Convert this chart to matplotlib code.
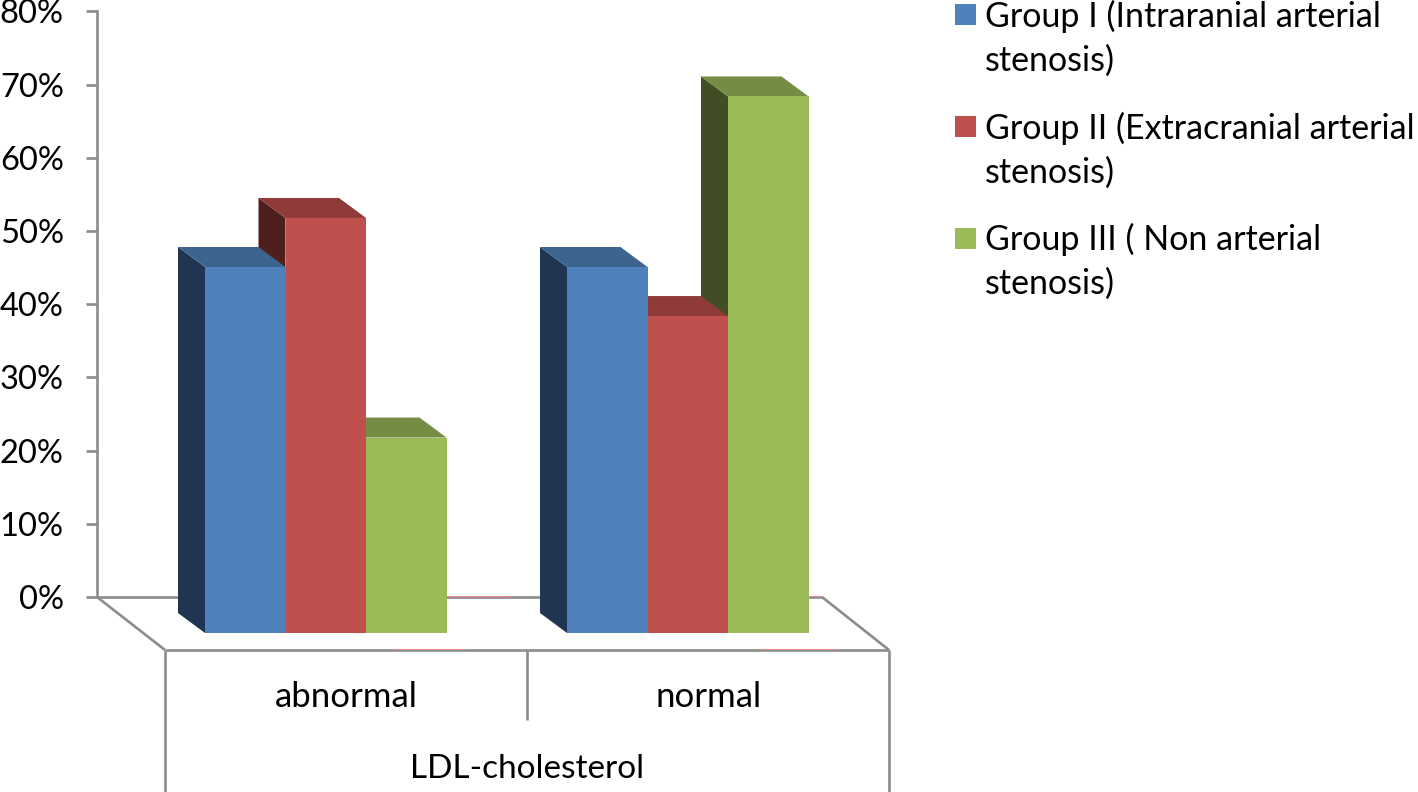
import matplotlib
matplotlib.use("Agg")
import matplotlib.pyplot as plt
from matplotlib.patches import Polygon, Rectangle

plt.rcParams['font.family'] = ['Lato', 'DejaVu Sans']

categories = ['abnormal', 'normal']
axis_title = 'LDL-cholesterol'
group_1 = [50.0, 50.0]
group_2 = [56.7, 43.3]
group_3 = [26.7, 73.3]
series = [group_1, group_2, group_3]
y_ticks = [0, 10, 20, 30, 40, 50, 60, 70, 80]
y_labels = ['0%', '10%', '20%', '30%', '40%', '50%', '60%', '70%', '80%']
legend_labels = ['Group I (Intraranial arterial\nstenosis)',
                 'Group II (Extracranial arterial\nstenosis)',
                 'Group III ( Non arterial\nstenosis)']

# front, top, side shade for each series
front_colors = ['#4f81bd', '#c0504d', '#9bbb59']
top_colors = ['#3d638f', '#8f3b39', '#748c43']
side_colors = ['#1f3552', '#4f1f1d', '#414d25']
axis_color = '#8c8c8c'

W, H = 1418, 792
px_per_pct = 7.32
zero_y = 597


def py(y):
    # picture row to percent units
    return (zero_y - y) / px_per_pct


fig = plt.figure(figsize=(W / 100, H / 100), dpi=100)
ax = fig.add_axes([0, 0, 1, 1])
ax.set_xlim(0, W)
ax.set_ylim(py(H), py(0))
ax.patch.set_visible(False)

for s in ['top', 'right', 'bottom']:
    ax.spines[s].set_visible(False)
ax.spines['left'].set_position(('data', 97))
ax.spines['left'].set_bounds(0, 80)
ax.spines['left'].set_color(axis_color)
ax.spines['left'].set_linewidth(1.9)
ax.set_xticks([])
ax.set_yticks(y_ticks)
ax.set_yticklabels(y_labels, fontsize=23.5, color='black')
ax.tick_params(axis='y', length=8, width=1.9, color=axis_color, pad=16)

# floor and category dividers
floor = [((97, 822), (597, 597)), ((97, 165), (597, 650)), ((822, 889), (597, 650)),
         ((165, 889), (650, 650)), ((165, 165), (650, 792)), ((527, 527), (650, 720)),
         ((889, 889), (650, 792))]
for xs, ys in floor:
    ax.plot(xs, [py(y) for y in ys], color=axis_color, lw=1.9, zorder=1,
            solid_capstyle='butt', clip_on=False)

# faint red traces along the floor edges
for xs, y in [((446, 510), 596), ((808, 822), 596), ((395, 465), 649), ((760, 835), 649)]:
    ax.plot(xs, [py(y)] * 2, color='#e58f8f', lw=0.8, zorder=1.5)

# oblique bars, drawn back to front so the shading overlaps like the original
group_left = [205, 567]
bar_w = 80.5
depth_x, depth_y = 27, 20 / px_per_pct
base = py(633)

for g in range(len(categories)):
    for i in reversed(range(len(series))):
        v = base + series[i][g]
        x0 = group_left[g] + i * bar_w
        x1 = x0 + bar_w
        side = [(x0, base), (x0, v), (x0 - depth_x, v + depth_y), (x0 - depth_x, base + depth_y)]
        top = [(x0, v), (x1, v), (x1 - depth_x, v + depth_y), (x0 - depth_x, v + depth_y)]
        ax.add_patch(Polygon(side, facecolor=side_colors[i], edgecolor='none', zorder=3))
        ax.add_patch(Polygon(top, facecolor=top_colors[i], edgecolor='none', zorder=3))
        ax.add_patch(Rectangle((x0, base), bar_w, series[i][g], facecolor=front_colors[i],
                               edgecolor='none', zorder=3))

# category labels
for g, name in enumerate(categories):
    ax.text(group_left[g] + 1.5 * bar_w + 21, py(707), name, ha='center', va='baseline',
            fontsize=25, color='black')
ax.text(527, py(778), axis_title, ha='center', va='baseline', fontsize=24, color='black')

# legend, baseline of each label's second line
legend_rows = [4, 116, 228]
legend_base = [71, 183, 294]
for i, label in enumerate(legend_labels):
    ax.add_patch(Rectangle((955, py(legend_rows[i] + 21)), 20.5, 21 / px_per_pct,
                           facecolor=front_colors[i], edgecolor='none'))
    ax.text(985, py(legend_base[i]), label, ha='left', va='baseline', fontsize=24.5,
            color='black', linespacing=1.46)

fig.savefig('out.png', dpi=100, facecolor='white')
